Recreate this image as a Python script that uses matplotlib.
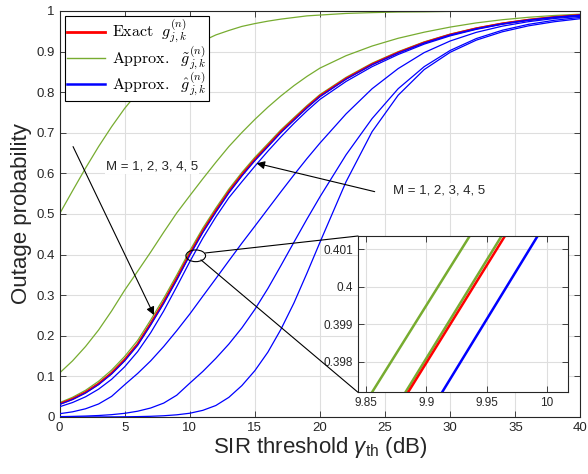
import numpy as np
import matplotlib
matplotlib.use("Agg")
import matplotlib.pyplot as plt
from matplotlib.patches import Ellipse, ConnectionPatch
from matplotlib.lines import Line2D

plt.rcParams['font.family'] = ['Liberation Sans', 'DejaVu Sans']
plt.rcParams['mathtext.fontset'] = 'custom'
plt.rcParams['mathtext.rm'] = 'Liberation Sans'
plt.rcParams['mathtext.it'] = 'Liberation Sans:italic'

# SIR threshold (dB)
sir_db = [0, 1, 2, 3, 4, 5, 6, 7, 8, 9, 10, 11, 12, 13, 14, 15, 16, 17, 18, 19, 20,
          22, 24, 26, 28, 30, 32, 34, 36, 38, 40]

# exact outage probability
exact = [0.0320, 0.0444, 0.0607, 0.0817, 0.1081, 0.1407, 0.1795, 0.2297, 0.2829, 0.3407,
         0.4013, 0.4576, 0.5075, 0.5548, 0.5963, 0.6341, 0.6682, 0.7027, 0.7330, 0.7631,
         0.7908, 0.8334, 0.8688, 0.8975, 0.9220, 0.9416, 0.9569, 0.9690, 0.9781, 0.9849, 0.9900]

# approx. g tilde, M = 1..5
tilde_m1 = [0.500, 0.557, 0.613, 0.666, 0.715, 0.760, 0.799, 0.834, 0.863, 0.888,
            0.909, 0.926, 0.941, 0.952, 0.962, 0.969, 0.975, 0.980, 0.984, 0.988,
            0.990, 0.994, 0.996, 0.9975, 0.998, 0.999, 0.9994, 0.9996, 0.9997, 0.9998, 0.9999]
tilde_m2 = [0.1081, 0.1382, 0.1736, 0.2142, 0.2611, 0.3122, 0.3589, 0.4061, 0.4551, 0.5025,
            0.5449, 0.5866, 0.6271, 0.6660, 0.7006, 0.7330, 0.7631, 0.7908, 0.8161, 0.8389,
            0.8594, 0.8899, 0.9137, 0.9328, 0.9478, 0.9604, 0.9707, 0.9785, 0.9845, 0.9890, 0.9922]
tilde_m3 = [0.0352, 0.0485, 0.0658, 0.0880, 0.1155, 0.1490, 0.1885, 0.2390, 0.2922, 0.3495,
            0.4095, 0.4650, 0.5145, 0.5612, 0.6022, 0.6396, 0.6733, 0.7073, 0.7373, 0.7670,
            0.7943, 0.8365, 0.8715, 0.8998, 0.9240, 0.9432, 0.9582, 0.9700, 0.9790, 0.9856, 0.9905]
tilde_m4 = [0.0330, 0.0456, 0.0620, 0.0832, 0.1097, 0.1424, 0.1813, 0.2316, 0.2849, 0.3428,
            0.4034, 0.4597, 0.5095, 0.5567, 0.5980, 0.6357, 0.6697, 0.7040, 0.7342, 0.7642,
            0.7917, 0.8341, 0.8694, 0.8980, 0.9224, 0.9419, 0.9571, 0.9692, 0.9782, 0.9850, 0.9901]
tilde_m5 = [0.0324, 0.0449, 0.0612, 0.0823, 0.1087, 0.1413, 0.1801, 0.2303, 0.2835, 0.3413,
            0.4019, 0.4582, 0.5081, 0.5554, 0.5968, 0.6346, 0.6687, 0.7031, 0.7334, 0.7634,
            0.7911, 0.8336, 0.8690, 0.8976, 0.9221, 0.9417, 0.9570, 0.9690, 0.9781, 0.9849, 0.9900]

# approx. g hat, M = 1..5
hat_m1 = [0.0000249, 0.0000454, 0.0000827, 0.000151, 0.000274, 0.000500, 0.000911, 0.00166,
          0.00302, 0.00533, 0.00919, 0.0163, 0.0282, 0.0483, 0.07725, 0.1141, 0.1597, 0.2159,
          0.2808, 0.3543, 0.4305, 0.5793, 0.7027, 0.7925, 0.8557, 0.8984, 0.9282, 0.9488,
          0.9634, 0.9736, 0.9811]
hat_m2 = [0.00091, 0.00144, 0.00228, 0.00361, 0.00571, 0.00901, 0.0142, 0.0221, 0.0342,
          0.0536, 0.0832, 0.1120, 0.1443, 0.1795, 0.2193, 0.2650, 0.3165, 0.3729, 0.4305,
          0.4875, 0.5424, 0.6457, 0.7350, 0.8085, 0.8629, 0.9029, 0.9321, 0.9526, 0.9671,
          0.9772, 0.9843]
hat_m3 = [0.0080, 0.0127, 0.0202, 0.0320, 0.0507, 0.0794, 0.1072, 0.1382, 0.1736, 0.2125,
          0.2535, 0.2973, 0.3407, 0.3846, 0.4280, 0.4700, 0.5125, 0.5548, 0.5963, 0.6365,
          0.6748, 0.7465, 0.8085, 0.8581, 0.8975, 0.9262, 0.9474, 0.9627, 0.9737, 0.9815, 0.9870]
hat_m4 = [0.0251, 0.0356, 0.0497, 0.0685, 0.0928, 0.1235, 0.1611, 0.2075, 0.2611, 0.3208,
          0.3823, 0.4403, 0.4925, 0.5399, 0.5793, 0.6177, 0.6548, 0.6900, 0.7231, 0.7540,
          0.7824, 0.8264, 0.8629, 0.8928, 0.9184, 0.9388, 0.9548, 0.9674, 0.9770, 0.9842, 0.9895]
hat_m5 = [0.0308, 0.0430, 0.0590, 0.0797, 0.1058, 0.1380, 0.1765, 0.2265, 0.2795, 0.3373,
          0.3980, 0.4543, 0.5043, 0.5518, 0.5935, 0.6314, 0.6657, 0.7004, 0.7309, 0.7612,
          0.7891, 0.8320, 0.8676, 0.8965, 0.9212, 0.9410, 0.9564, 0.9686, 0.9778, 0.9847, 0.9898]

tilde_all = [tilde_m1, tilde_m2, tilde_m3, tilde_m4, tilde_m5]
hat_all = [hat_m1, hat_m2, hat_m3, hat_m4, hat_m5]

# zoomed window (inset): x positions where each line enters/leaves the window
inset_y = [0.39718, 0.40135]
inset_tilde_a = [9.8547, 9.9360]
inset_tilde_b = [9.8825, 9.9625]
inset_exact = [9.8847, 9.9653]
inset_hat = [9.9130, 9.9925]

green = (0.466, 0.674, 0.188)
blue = (0, 0, 1)
red = (1, 0, 0)
axc = (0.15, 0.15, 0.15)
gridc = (0.87, 0.87, 0.87)


def style_axes(ax, fs):
    ax.grid(True, color=gridc, lw=0.8)
    ax.set_axisbelow(True)
    ax.tick_params(direction='in', top=True, right=True, length=4, width=0.6,
                   colors=axc, labelsize=fs)
    for s in ax.spines.values():
        s.set_color(axc)
        s.set_linewidth(0.8)


fig = plt.figure(figsize=(5.88, 4.74), dpi=100)
ax = fig.add_axes([0.1012, 0.1203, 0.886, 0.8565])

for yv in tilde_all:
    ax.plot(sir_db, yv, color=green, lw=0.9, zorder=2)
for yv in hat_all:
    ax.plot(sir_db, yv, color=blue, lw=0.9, zorder=3)
ax.plot(sir_db, exact, color=red, lw=1.6, zorder=2.5)

ax.set_xlim(0, 40)
ax.set_ylim(0, 1)
ax.set_xticks(np.arange(0, 41, 5))
ax.set_yticks(np.arange(0, 1.01, 0.1))
ax.set_yticklabels(['0', '0.1', '0.2', '0.3', '0.4', '0.5', '0.6', '0.7', '0.8', '0.9', '1'])
style_axes(ax, 9.5)
ax.set_xlabel(r'SIR threshold $\gamma_{\mathrm{th}}$ (dB)', fontsize=16, color=axc, labelpad=1)
ax.set_ylabel('Outage probability', fontsize=16, color=axc, labelpad=3)

# legend
handles = [Line2D([], [], color=red, lw=2),
           Line2D([], [], color=green, lw=1),
           Line2D([], [], color=blue, lw=1.8)]
labels = [r'$\mathrm{Exact}\ \ g_{j,k}^{(n)}$',
          r'$\mathrm{Approx.}\ \ \tilde{g}_{j,k}^{(n)}$',
          r'$\mathrm{Approx.}\ \ \hat{g}_{j,k}^{(n)}$']
leg = ax.legend(handles, labels, loc='upper left', bbox_to_anchor=(0.01, 0.988),
                borderaxespad=0, fancybox=False, framealpha=1, edgecolor='black',
                prop={'size': 11.5, 'math_fontfamily': 'cm'}, handlelength=2.4,
                handletextpad=0.4, labelspacing=-0.05, borderpad=0.15)
leg.get_frame().set_linewidth(0.8)

# annotations
akw = dict(arrowstyle='-|>', color='black', lw=0.8, mutation_scale=12, shrinkA=0, shrinkB=0)
ax.annotate('', xy=(7.25, 0.251), xytext=(1.04, 0.666), arrowprops=akw, zorder=6)
ax.annotate('', xy=(15.13, 0.625), xytext=(24.2, 0.555), arrowprops=akw, zorder=6)
tb = dict(facecolor='white', edgecolor='none', pad=0.5)
ax.text(7.1, 0.616, 'M = 1, 2, 3, 4, 5', fontsize=9.5, ha='center', va='center',
        color=axc, bbox=tb, zorder=5)
ax.text(25.6, 0.559, 'M = 1, 2, 3, 4, 5', fontsize=9.5, ha='left', va='center',
        color=axc, bbox=tb, zorder=5)
ax.add_patch(Ellipse((10.46, 0.397), 1.51, 0.0288, fill=False, ec='black', lw=0.8, zorder=6))

# inset
axin = fig.add_axes([0.6088, 0.1724, 0.3566, 0.3297])
axin.plot(inset_tilde_a, inset_y, color=green, lw=1.8)
axin.plot(inset_tilde_b, inset_y, color=green, lw=1.8)
axin.plot(inset_exact, inset_y, color=red, lw=1.8)
axin.plot(inset_hat, inset_y, color=blue, lw=1.8)
axin.set_xlim(9.843, 10.0175)
axin.set_ylim(0.39718, 0.40135)
axin.set_xticks([9.85, 9.9, 9.95, 10])
axin.set_xticklabels(['9.85', '9.9', '9.95', '10'])
axin.set_yticks([0.398, 0.399, 0.4, 0.401])
axin.set_yticklabels(['0.398', '0.399', '0.4', '0.401'])
style_axes(axin, 8.5)

for xyA, xyB in [((11.2, 0.404), (0, 1)), ((10.86, 0.387), (0, 0))]:
    con = ConnectionPatch(xyA=xyA, coordsA=ax.transData, xyB=xyB, coordsB=axin.transAxes,
                          color='black', lw=0.8)
    fig.add_artist(con)

fig.savefig('out.png', dpi=100)
